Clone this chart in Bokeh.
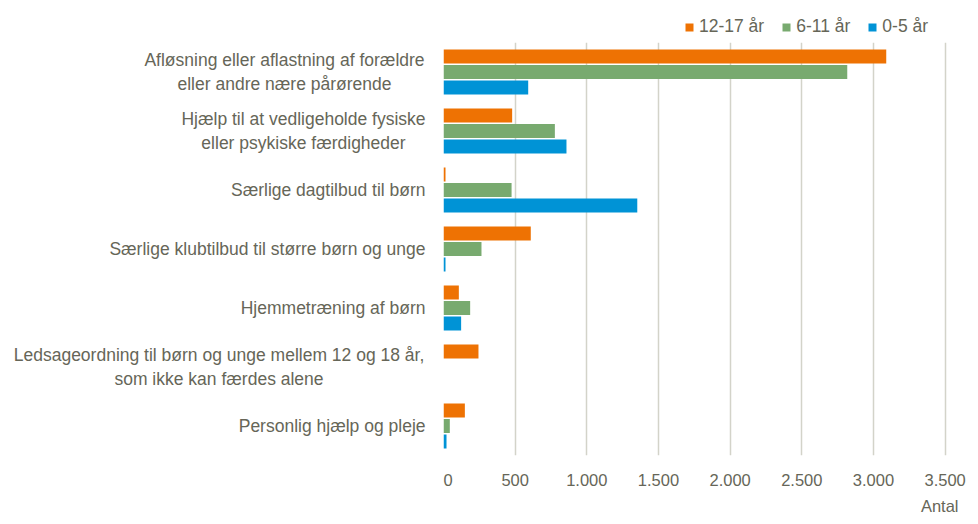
from bokeh.plotting import figure
from bokeh.models import Range1d, FixedTicker, Legend, LegendItem, Title, CustomJSTickFormatter, ColumnDataSource
from bokeh.layouts import column, row
from bokeh.core.properties import value
from bokeh.embed import file_html
from bokeh.resources import INLINE

categories = [
    "Afløsning eller aflastning af forældre\neller andre nære pårørende",
    "Hjælp til at vedligeholde fysiske\neller psykiske færdigheder",
    "Særlige dagtilbud til børn",
    "Særlige klubtilbud til større børn og unge",
    "Hjemmetræning af børn",
    "Ledsageordning til børn og unge mellem 12 og 18 år,\nsom ikke kan færdes alene",
    "Personlig hjælp og pleje",
]
age_12_17 = [3089, 479, 14, 609, 107, 244, 149]
age_6_11 = [2817, 777, 475, 265, 186, 0, 44]
age_0_5 = [591, 858, 1352, 14, 123, 0, 21]
series_names = ["12-17 år", "6-11 år", "0-5 år"]
colors = ["#EE7203", "#78AA6F", "#0093D6"]
x_ticks = [0, 500, 1000, 1500, 2000, 2500, 3000, 3500]

FONT = "Liberation Sans"
TXT = "#666658"
CAT_SIZE = "17.5px"

TOTAL_W = 975
LEG_H = 42
LABEL_W = 443
MAIN_H = 478
BOTTOM = 60

n = len(categories)
y_range = Range1d(n - 0.5, -0.5)

# ---------- main chart ----------
p = figure(
    width=TOTAL_W - LABEL_W, height=MAIN_H,
    y_range=y_range, x_range=Range1d(0, 3642),
    output_backend="svg", toolbar_location=None,
    min_border_left=0, min_border_right=10, min_border_top=0, min_border_bottom=BOTTOM,
)
pos = list(range(n))
bar_h = 0.235
offsets = [-0.262, 0.0, 0.262]
for vals, off, col in zip([age_12_17, age_6_11, age_0_5], offsets, colors):
    p.hbar(y=[i + off for i in pos], right=vals, left=0, height=bar_h,
           fill_color=col, line_color=None)

p.xaxis.ticker = FixedTicker(ticks=x_ticks)
p.xaxis.formatter = CustomJSTickFormatter(code="return tick.toString().replace(/\\B(?=(\\d{3})+(?!\\d))/g, '.');")
p.xaxis.axis_line_color = None
p.xaxis.major_tick_line_color = None
p.xaxis.minor_tick_line_color = None
p.xaxis.major_label_text_font = FONT
p.xaxis.major_label_text_font_size = "16.5px"
p.xaxis.major_label_text_color = TXT
p.xaxis.major_label_standoff = 12
p.yaxis.visible = False
p.xgrid.ticker = FixedTicker(ticks=x_ticks)
p.xgrid.grid_line_color = "#d3d3c9"
p.xgrid.grid_line_width = 1.5
p.ygrid.grid_line_color = None
p.outline_line_color = None
p.add_layout(Title(text="Antal", align="right", offset=7, text_font=FONT, text_font_size="16.5px",
                   text_color=TXT, text_font_style="normal", standoff=12), "below")

# ---------- category labels ----------
lp = figure(
    width=LABEL_W, height=MAIN_H, y_range=y_range, x_range=Range1d(0, LABEL_W),
    output_backend="svg", toolbar_location=None,
    min_border_left=0, min_border_right=0, min_border_top=0, min_border_bottom=BOTTOM,
)
lp.xaxis.visible = False
lp.yaxis.visible = False
lp.grid.visible = False
lp.outline_line_color = None

standoff = 18
block_half_widths = [141, 122, 0, 0, 0, 206.5, 0]
line_gap = 0.2
lx, ly, lt, la = [], [], [], []
for i, (cat, hw) in enumerate(zip(categories, block_half_widths)):
    lines = cat.split("\n")
    for k, line in enumerate(lines):
        ly.append(i + (k - (len(lines) - 1) / 2) * 2 * line_gap)
        lt.append(line)
        if len(lines) == 1:
            lx.append(LABEL_W - standoff)
            la.append("right")
        else:
            lx.append(LABEL_W - standoff - hw)
            la.append("center")
lp.text(x="x", y="y", text="t", text_align="a",
        source=ColumnDataSource(dict(x=lx, y=ly, t=lt, a=la)),
        text_baseline="middle", text_font=value(FONT), text_font_size=CAT_SIZE, text_color=TXT)

# ---------- legend ----------
gp = figure(
    width=TOTAL_W, height=LEG_H, x_range=Range1d(0, 1), y_range=Range1d(0, 1),
    output_backend="svg", toolbar_location=None,
    min_border_left=0, min_border_right=0, min_border_top=0, min_border_bottom=0,
)
gp.xaxis.visible = False
gp.yaxis.visible = False
gp.grid.visible = False
gp.outline_line_color = None
# off-screen placeholder glyphs, only used for the legend swatches
leg_renderers = [gp.scatter(x=[-10], y=[-10], marker="square", size=10,
                            fill_color=c, line_color=None) for c in colors]
legend = Legend(
    items=[LegendItem(label=s, renderers=[r]) for s, r in zip(series_names, leg_renderers)],
    orientation="horizontal", location=(679, 5),
    label_text_font=FONT, label_text_font_size=CAT_SIZE, label_text_color=TXT,
    glyph_width=20, glyph_height=20, spacing=12, padding=0, margin=0,
    border_line_color=None, background_fill_alpha=0, label_standoff=0,
)
gp.add_layout(legend, "center")

layout = column(gp, row(lp, p))
open("out.html", "w").write(file_html(layout, INLINE))
